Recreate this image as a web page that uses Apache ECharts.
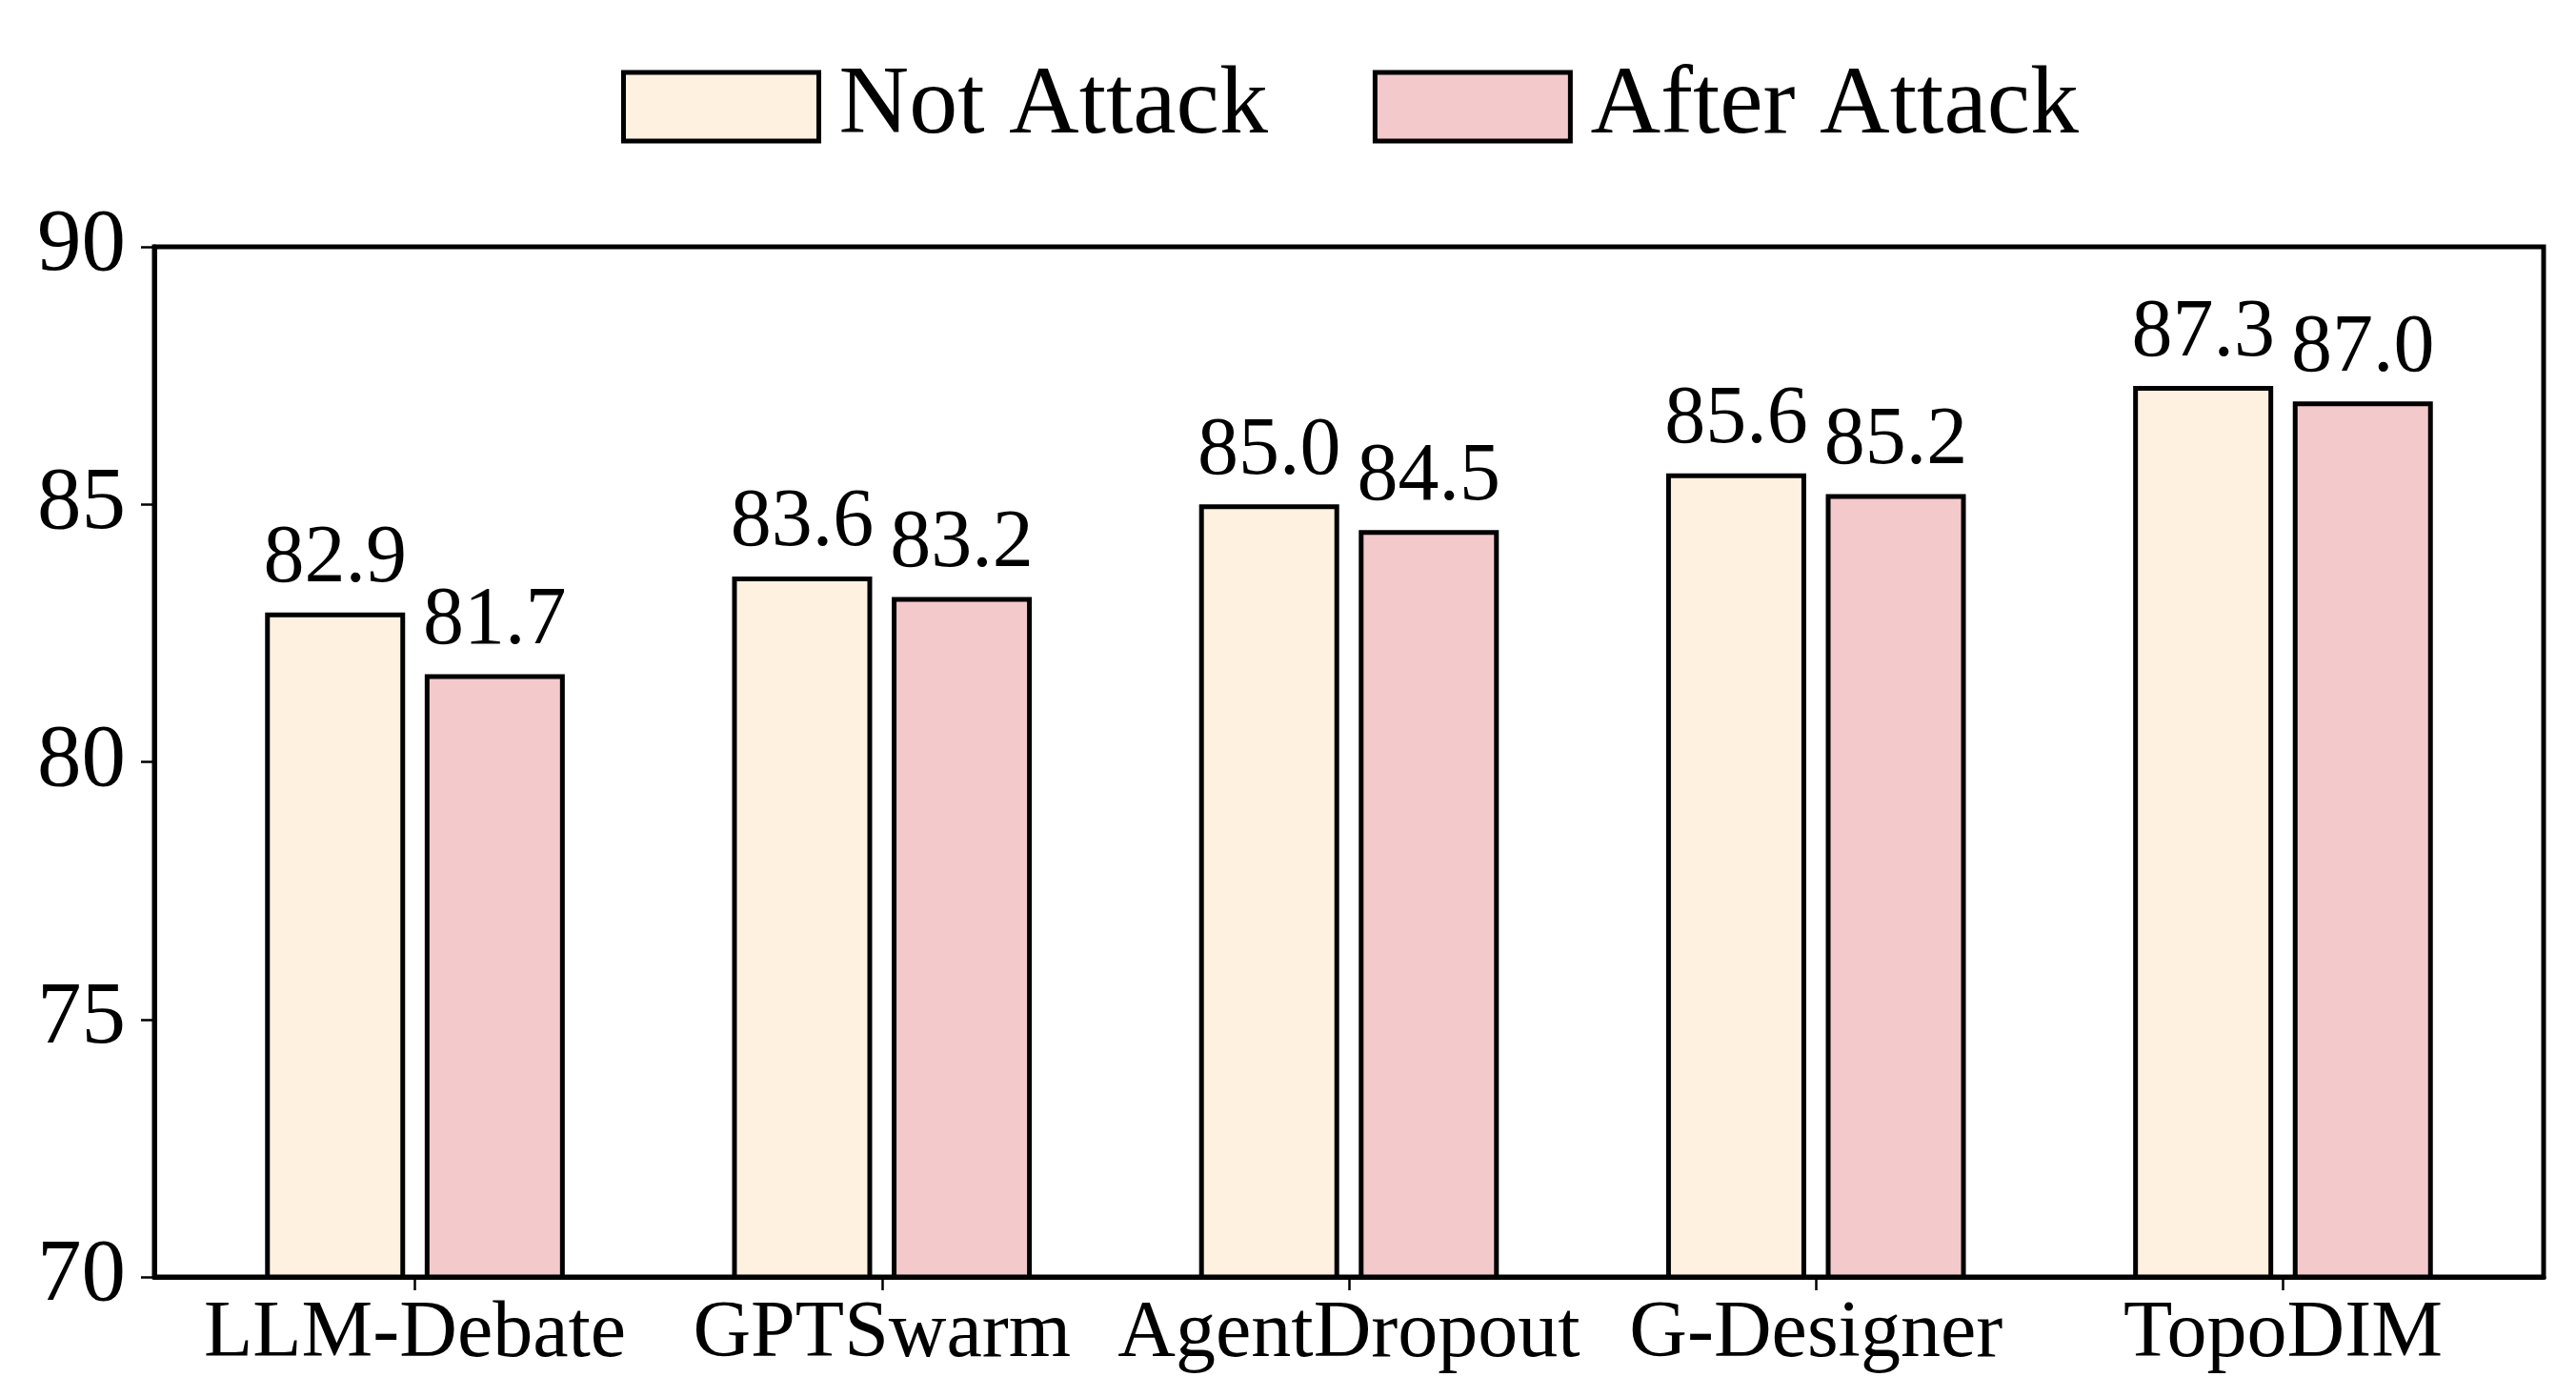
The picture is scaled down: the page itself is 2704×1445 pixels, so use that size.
<!DOCTYPE html>
<html>
<head>
<meta charset="utf-8">
<script src="https://cdn.jsdelivr.net/npm/echarts@6/dist/echarts.min.js"></script>
<style>
html,body{margin:0;padding:0;background:#fff;}
#chart{width:2704px;height:1445px;}
</style>
</head>
<body>
<div id="chart"></div>
<script>
const categories = ['LLM-Debate', 'GPTSwarm', 'AgentDropout', 'G-Designer', 'TopoDIM'];
const notAttack = [82.9, 83.6, 85.0, 85.6, 87.3];
const afterAttack = [81.7, 83.2, 84.5, 85.2, 87.0];
const seriesNames = ['Not Attack', 'After Attack'];
const yTicks = [70, 75, 80, 85, 90];

const FONT = '"Liberation Serif", "Times New Roman", serif';
const catIdx = categories.map((c, i) => i);

const chart = echarts.init(document.getElementById('chart'), null, {renderer: 'canvas'});

function barSeries(name, values, color) {
  return {
    name: name,
    type: 'bar',
    data: values.map((v, i) => [i, v]),
    barWidth: 147,
    barGap: '14%',
    itemStyle: {color: color, borderColor: '#000', borderWidth: 5},
    label: {
      show: true,
      position: 'top',
      distance: 12,
      formatter: p => p.value[1].toFixed(1),
      fontFamily: FONT,
      fontSize: 86,
      color: '#000'
    }
  };
}

chart.setOption({
  animation: false,
  backgroundColor: '#fff',
  grid: {
    left: 162, right: 34, top: 259, bottom: 105,
    show: true, borderColor: '#000', borderWidth: 5, backgroundColor: 'transparent'
  },
  legend: {
    left: 647, top: 56,
    itemWidth: 205, itemHeight: 72, itemGap: 110,
    icon: 'rect',
    itemStyle: {borderColor: '#000', borderWidth: 5},
    textStyle: {fontFamily: FONT, fontSize: 102, color: '#000', padding: [0, 0, 0, 16]},
    data: seriesNames
  },
  xAxis: {
    type: 'value',
    min: -0.558, max: 4.558,
    splitLine: {show: false},
    axisLine: {show: true, onZero: false, lineStyle: {color: '#000', width: 5}},
    axisTick: {show: true, customValues: catIdx, length: 14, lineStyle: {color: '#000', width: 2.5}},
    axisLabel: {
      customValues: catIdx,
      formatter: v => categories[Math.round(v)],
      fontFamily: FONT, fontSize: 84, color: '#000', margin: 19
    }
  },
  yAxis: {
    type: 'value',
    min: 70, max: 90, interval: 5,
    splitLine: {show: false},
    axisLine: {show: true, onZero: false, lineStyle: {color: '#000', width: 5}},
    axisTick: {show: true, length: 14, lineStyle: {color: '#000', width: 2.5}},
    axisLabel: {
      customValues: yTicks,
      fontFamily: FONT, fontSize: 93, color: '#000', margin: 30
    }
  },
  series: [
    barSeries(seriesNames[0], notAttack, '#FEF1E0'),
    barSeries(seriesNames[1], afterAttack, '#F4C9CB')
  ]
});
</script>
</body>
</html>
